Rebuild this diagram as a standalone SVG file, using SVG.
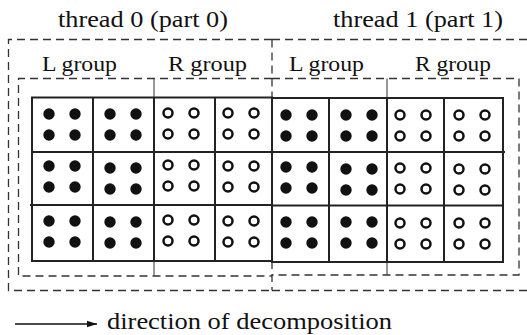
<svg xmlns="http://www.w3.org/2000/svg" xmlns:xlink="http://www.w3.org/1999/xlink" width="527" height="335" viewBox="0 0 527 335">
<style>
.t{font-family:"Liberation Serif","Times New Roman",serif;fill:#111}
.dash{fill:none;stroke:#333;stroke-width:1.3;stroke-dasharray:8 5}
.grid{fill:none;stroke:#222;stroke-width:2}
.div{fill:none;stroke:#333;stroke-width:1}
.f{fill:#111}
.o{fill:#fff;stroke:#111;stroke-width:2.5}
</style>
<defs>
<g id="F"><circle class="f" cx="0" cy="0" r="5.7"/><circle class="f" cx="26" cy="0" r="5.7"/><circle class="f" cx="0" cy="21" r="5.7"/><circle class="f" cx="26" cy="21" r="5.7"/></g>
<g id="O"><circle class="o" cx="0" cy="0" r="4.5"/><circle class="o" cx="26" cy="0" r="4.5"/><circle class="o" cx="0" cy="21" r="4.5"/><circle class="o" cx="26" cy="21" r="4.5"/></g>
<marker id="ah" markerWidth="11" markerHeight="8" refX="10" refY="4" orient="auto" markerUnits="userSpaceOnUse"><path d="M0,0.8 L10,4 L0,7.2 Z" fill="#111"/></marker>
</defs>
<rect width="527" height="335" fill="#fff"/>
<g id="thread0">
<text class="t" x="58" y="27" font-size="24" textLength="170" lengthAdjust="spacingAndGlyphs">thread 0 (part 0)</text>
<path class="dash" d="M272,39.5 H8.5 V290.5 H272"/>
</g>
<g id="thread1">
<text class="t" x="333" y="27" font-size="24" textLength="170" lengthAdjust="spacingAndGlyphs">thread 1 (part 1)</text>
<path class="dash" d="M272,39.5 H527 M272,290.5 H527"/>
<path class="dash" d="M272,39.5 V97 M272,261 V290.5"/>
</g>
<g id="groups0">
<text class="t" x="42" y="71" font-size="20" textLength="75" lengthAdjust="spacingAndGlyphs">L group</text>
<text class="t" x="168" y="71" font-size="20" textLength="79" lengthAdjust="spacingAndGlyphs">R group</text>
<path class="dash" d="M272,78.5 H18.5 V276 H272"/>
<path class="div" d="M154,78.5 V97 M154,261 V276"/>
</g>
<g id="groups1">
<text class="t" x="289" y="71" font-size="20" textLength="75" lengthAdjust="spacingAndGlyphs">L group</text>
<text class="t" x="415" y="71" font-size="20" textLength="76" lengthAdjust="spacingAndGlyphs">R group</text>
<path class="dash" d="M272,78.5 H519 V275 H272"/>
<path class="div" d="M387,78.5 V98 M387,262 V275"/>
</g>
<g id="grid0">
<rect class="grid" x="32" y="97.5" width="240" height="163.5"/>
<path class="grid" d="M93,97.5 V261 M154,97.5 V261 M215,97.5 V261 M32,152 H272 M30,205 H272"/>
<use xlink:href="#F" x="49" y="114"/><use xlink:href="#F" x="110" y="114"/><use xlink:href="#O" x="168" y="113"/><use xlink:href="#O" x="228" y="113"/>
<use xlink:href="#F" x="49" y="166"/><use xlink:href="#F" x="110" y="168"/><use xlink:href="#O" x="168" y="165"/><use xlink:href="#O" x="228" y="166"/>
<use xlink:href="#F" x="49" y="221"/><use xlink:href="#F" x="110" y="222"/><use xlink:href="#O" x="168" y="220"/><use xlink:href="#O" x="228" y="221"/>
</g>
<g id="grid1">
<rect class="grid" x="272" y="98" width="231" height="164"/>
<path class="grid" d="M329,98 V262 M387,98 V262 M444,98 V262 M272,152 H505 M272,205.5 H503"/>
<use xlink:href="#F" x="286" y="115"/><use xlink:href="#F" x="346" y="115"/><use xlink:href="#O" x="400" y="115"/><use xlink:href="#O" x="459" y="115"/>
<use xlink:href="#F" x="286" y="167"/><use xlink:href="#F" x="346" y="169"/><use xlink:href="#O" x="400" y="168"/><use xlink:href="#O" x="459" y="169"/>
<use xlink:href="#F" x="286" y="222"/><use xlink:href="#F" x="346" y="222"/><use xlink:href="#O" x="400" y="223"/><use xlink:href="#O" x="459" y="223"/>
</g>
<g id="connectors">
<line x1="15" y1="324" x2="97" y2="324" stroke="#111" stroke-width="1.5" marker-end="url(#ah)"/>
</g>
<g id="legend">
<text class="t" x="107" y="329" font-size="23" textLength="285" lengthAdjust="spacingAndGlyphs">direction of decomposition</text>
</g>
</svg>
